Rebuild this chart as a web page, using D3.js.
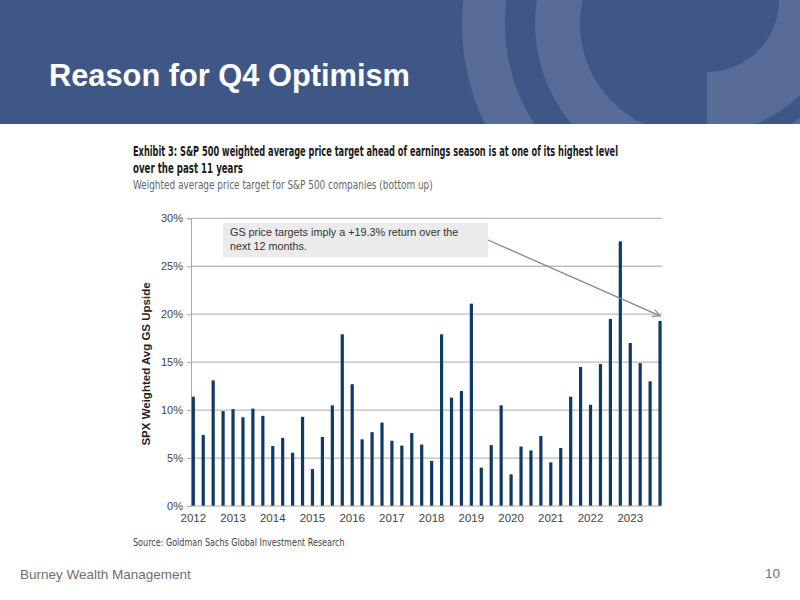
<!DOCTYPE html>
<html>
<head>
<meta charset="utf-8">
<script src="https://cdn.jsdelivr.net/npm/d3@7"></script>
<style>
  html, body { margin: 0; padding: 0; background: #ffffff; }
  svg { display: block; }
</style>
</head>
<body>
<svg id="chart" width="800" height="600"></svg>
<script>
// ---------- data ----------
const years = ["2012","2013","2014","2015","2016","2017","2018","2019","2020","2021","2022","2023"];
const quarters = ["Q1","Q2","Q3","Q4"];
const upside = [
  11.4, 7.4, 13.1, 9.9,
  10.1, 9.25, 10.15, 9.4,
  6.25, 7.1, 5.55, 9.3,
  3.85, 7.2, 10.5, 17.9,
  12.7, 6.95, 7.7, 8.7,
  6.8, 6.3, 7.6, 6.4,
  4.7, 17.9, 11.3, 12.0,
  21.1, 4.0, 6.35, 10.5,
  3.3, 6.2, 5.8, 7.3,
  4.55, 6.05, 11.4, 14.5,
  10.55, 14.8, 19.5, 27.6,
  17.0, 14.9, 13.0, 19.3
];
const yTicks = [0, 5, 10, 15, 20, 25, 30];
const slideTitle = "Reason for Q4 Optimism";
const chartTitle1 = "Exhibit 3: S&P 500 weighted average price target ahead of earnings season is at one of its highest level";
const chartTitle2 = "over the past 11 years";
const chartSubtitle = "Weighted average price target for S&P 500 companies (bottom up)";
const yAxisTitle = "SPX Weighted Avg GS Upside";
const noteLines = ["GS price targets imply a +19.3% return over the", "next 12 months."];
const sourceText = "Source: Goldman Sachs Global Investment Research";
const footerLeft = "Burney Wealth Management";
const footerRight = "10";

const categories = [];
years.forEach(y => quarters.forEach(q => categories.push(y + q)));
const data = categories.map((c, i) => ({ cat: c, value: upside[i] }));

// ---------- svg ----------
const svg = d3.select("#chart");
const defs = svg.append("defs");
defs.append("clipPath").attr("id", "hdrClip")
  .append("rect").attr("x", 0).attr("y", 0).attr("width", 800).attr("height", 124);
defs.append("clipPath").attr("id", "leftClip")
  .append("rect").attr("x", 0).attr("y", 0).attr("width", 707).attr("height", 124);
defs.append("clipPath").attr("id", "rightClip")
  .append("rect").attr("x", 707).attr("y", 0).attr("width", 93).attr("height", 124);

// Header band
const header = svg.append("g");
header.append("rect").attr("x", 0).attr("y", 0).attr("width", 800).attr("height", 124)
  .attr("fill", "#3f5787");

const deco = header.append("g").attr("clip-path", "url(#hdrClip)").attr("fill", "#566b98");
const ring = (r0, r1) => d3.arc().innerRadius(r0).outerRadius(r1).startAngle(0).endAngle(2 * Math.PI)();
deco.append("path").attr("transform", "translate(690,24)").attr("d", ring(185, 228));
deco.append("g").attr("clip-path", "url(#leftClip)")
  .append("path").attr("transform", "translate(690,24)").attr("d", ring(110, 155));
const rg = deco.append("g").attr("clip-path", "url(#rightClip)");
rg.append("path").attr("transform", "translate(707,0)").attr("d", ring(72, 133));
rg.append("path").attr("transform", "translate(707,0)").attr("d", ring(150, 195));

header.append("text").attr("x", 49).attr("y", 86)
  .attr("font-family", "Liberation Sans, Arial, sans-serif").attr("font-weight", "bold")
  .attr("font-size", 30.5).attr("fill", "#ffffff")
  .attr("textLength", 361).attr("lengthAdjust", "spacingAndGlyphs")
  .text(slideTitle);

// Condensed texts: squeeze horizontally to the widths seen in the reference
const condensed = "'Liberation Sans Narrow', 'DejaVu Sans Condensed', 'Arial Narrow', sans-serif";
function squeezed(txt, x0, y0, width, size, weight, color) {
  const t = svg.append("text")
    .attr("x", 0).attr("y", 0)
    .attr("font-family", condensed).attr("font-weight", weight).attr("font-size", size)
    .attr("fill", color).text(txt);
  const w = t.node().getComputedTextLength();
  const sx = Math.min(1, width / w);
  t.attr("transform", `translate(${x0},${y0}) scale(${sx},1)`);
  return t;
}
squeezed(chartTitle1, 133, 156, 486, 13.5, "bold", "#1a1a1a");
squeezed(chartTitle2, 133, 173, 110, 13.5, "bold", "#1a1a1a");
squeezed(chartSubtitle, 133, 189, 300, 12, "normal", "#666666");

// ---------- scales ----------
const x = d3.scaleBand().domain(categories).range([188.35, 665]).padding(0);
const y = d3.scaleLinear().domain([0, 30]).range([506, 218.3]);
const plotLeft = 191, plotRight = 662;
const barW = 3.2;

const plot = svg.append("g");

// gridlines
plot.selectAll("line.grid").data(yTicks.filter(t => t > 0)).join("line")
  .attr("class", "grid")
  .attr("x1", plotLeft).attr("x2", plotRight)
  .attr("y1", d => y(d)).attr("y2", d => y(d))
  .attr("stroke", "#bdbdbd").attr("stroke-width", 1.3);

// y axis
const yAxis = d3.axisLeft(y).tickValues(yTicks).tickFormat(d => d + "%").tickSize(4).tickPadding(4);
const yg = plot.append("g").attr("transform", `translate(${plotLeft},0)`).call(yAxis);
yg.select(".domain").attr("stroke", "#a8a8a8");
yg.selectAll(".tick line").attr("stroke", "#a8a8a8");
yg.selectAll(".tick text").attr("font-family", "Liberation Sans, Arial, sans-serif")
  .attr("font-size", 11).attr("fill", "#444444");

// bars
plot.selectAll("rect.bar").data(data).join("rect")
  .attr("class", "bar")
  .attr("x", d => x(d.cat) + x.bandwidth() / 2 - barW / 2)
  .attr("width", barW)
  .attr("y", d => y(d.value))
  .attr("height", d => y(0) - y(d.value))
  .attr("fill", "#0f3a66");

// x axis
const xAxis = d3.axisBottom(x)
  .tickValues(years.map(yr => yr + "Q1"))
  .tickFormat(d => d.slice(0, 4))
  .tickSize(0).tickPadding(8);
const xg = plot.append("g").attr("transform", `translate(0,${y(0)})`).call(xAxis);
xg.select(".domain").remove();
xg.selectAll(".tick text").attr("font-family", "Liberation Sans, Arial, sans-serif")
  .attr("font-size", 11.5).attr("fill", "#444444");
plot.append("line").attr("x1", plotLeft).attr("x2", plotRight)
  .attr("y1", y(0)).attr("y2", y(0)).attr("stroke", "#a8a8a8").attr("stroke-width", 1.2);

// y axis title
svg.append("text")
  .attr("transform", "translate(150,364) rotate(-90)")
  .attr("text-anchor", "middle")
  .attr("font-family", "Liberation Sans, Arial, sans-serif").attr("font-weight", "bold")
  .attr("font-size", 11.5).attr("fill", "#222222")
  .text(yAxisTitle);

// annotation box
svg.append("rect").attr("x", 223).attr("y", 223).attr("width", 265).attr("height", 34)
  .attr("fill", "#ebebeb");
svg.append("text").attr("font-family", "Liberation Sans, Arial, sans-serif")
  .attr("font-size", 10.8).attr("fill", "#333333")
  .selectAll("tspan").data(noteLines).join("tspan")
  .attr("x", 230).attr("y", (d, i) => 236 + i * 13.5).text(d => d);

// arrow
defs.append("marker").attr("id", "arrowHead")
  .attr("viewBox", "0 0 10 10").attr("refX", 9).attr("refY", 5)
  .attr("markerWidth", 9).attr("markerHeight", 9).attr("markerUnits", "userSpaceOnUse")
  .attr("orient", "auto")
  .append("path").attr("d", "M1,1 L9,5 L1,9").attr("fill", "none")
  .attr("stroke", "#7d8a99").attr("stroke-width", 1.3);
const last = data[data.length - 1];
svg.append("line")
  .attr("x1", 488).attr("y1", 240)
  .attr("x2", x(last.cat) + x.bandwidth() / 2).attr("y2", y(last.value) - 5)
  .attr("stroke", "#7d8a99").attr("stroke-width", 1.3)
  .attr("marker-end", "url(#arrowHead)");

// source
squeezed(sourceText, 133, 546, 212, 10.5, "normal", "#444444");

// footer
svg.append("text").attr("x", 20).attr("y", 579)
  .attr("font-family", "Liberation Sans, Arial, sans-serif").attr("font-size", 13.5)
  .attr("fill", "#707070").text(footerLeft);
svg.append("text").attr("x", 780).attr("y", 578).attr("text-anchor", "end")
  .attr("font-family", "Liberation Sans, Arial, sans-serif").attr("font-size", 13.5)
  .attr("fill", "#707070").text(footerRight);
</script>
</body>
</html>
